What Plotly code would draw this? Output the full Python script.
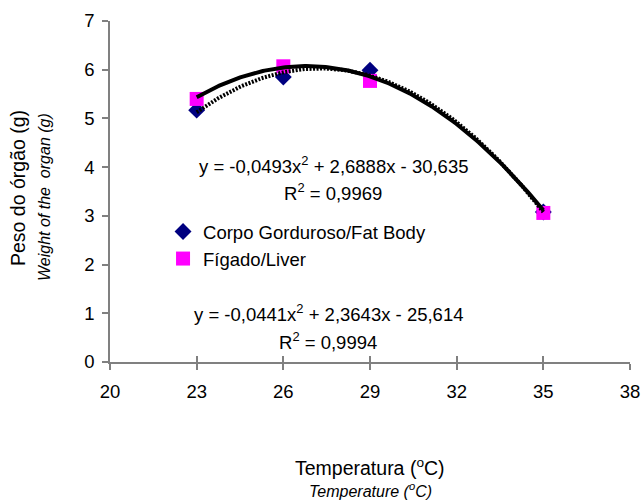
import numpy as np
import plotly.graph_objects as go

# Data
temperatures = [23, 26, 29, 35]
fat_body = [5.17, 5.85, 5.99, 3.08]
liver = [5.40, 6.07, 5.77, 3.06]

fat_coef = [-0.0493, 2.6888, -30.635]
liver_coef = [-0.0441, 2.3643, -25.614]

x_ticks = [20, 23, 26, 29, 32, 35, 38]
y_ticks = [0, 1, 2, 3, 4, 5, 6, 7]

FONT = "Liberation Sans, Arial, sans-serif"

xs = np.linspace(min(temperatures), max(temperatures), 200)
fat_fit = np.polyval(fat_coef, xs)
liver_fit = np.polyval(liver_coef, xs)

fig = go.Figure()
fig.add_trace(go.Scatter(
    x=temperatures, y=fat_body, mode="markers", name="Corpo Gorduroso/Fat Body",
    marker=dict(symbol="diamond", size=13, color="#000080"),
))
fig.add_trace(go.Scatter(
    x=temperatures, y=liver, mode="markers", name="Fígado/Liver",
    marker=dict(symbol="square", size=14, color="#FF00FF"),
))
fig.add_trace(go.Scatter(
    x=xs, y=fat_fit, mode="lines", showlegend=False, hoverinfo="skip",
    line=dict(color="black", width=4, dash="2px,1.5px"),
))
fig.add_trace(go.Scatter(
    x=xs, y=liver_fit, mode="lines", showlegend=False, hoverinfo="skip",
    line=dict(color="black", width=4),
))
# invisible trace to drive overlay axis (inside ticks for crossing look)
fig.add_trace(go.Scatter(x=[20, 38], y=[0, 0], mode="markers", xaxis="x2",
                         marker=dict(opacity=0), showlegend=False, hoverinfo="skip"))

axis_common = dict(showgrid=False, zeroline=False, showline=True, automargin=False,
                   linecolor="#808080", linewidth=1.5,
                   tickcolor="#808080", tickwidth=1.5, ticklen=6,
                   tickfont=dict(family=FONT, size=18.5, color="black"))

fig.update_layout(
    width=642, height=501,
    margin=dict(l=110, r=12, t=21, b=139),
    paper_bgcolor="white", plot_bgcolor="white",
    font=dict(family=FONT, size=18.5, color="black"),
    xaxis=dict(range=[20, 38], tickvals=x_ticks, ticks="outside",
               ticklabelstandoff=6, **axis_common),
    xaxis2=dict(range=[20, 38], tickvals=x_ticks, ticks="inside", overlaying="x",
                showticklabels=False, showgrid=False, zeroline=False, showline=False,
                automargin=False,
                tickcolor="#808080", tickwidth=1.5, ticklen=6, anchor="y"),
    yaxis=dict(range=[0, 7], tickvals=y_ticks, ticks="outside",
               ticklabelstandoff=4, **axis_common),
    showlegend=True,
    legend=dict(x=0.102, y=0.437, xanchor="left", yanchor="top",
                bgcolor="rgba(0,0,0,0)", itemwidth=30,
                font=dict(family=FONT, size=18.5, color="black"),
                tracegroupgap=0),
)

annotations = [
    dict(text="y = -0,0493x<sup>2</sup> + 2,6888x - 30,635", x=333, y=165),
    dict(text="R<sup>2</sup> = 0,9969", x=333, y=192),
    dict(text="y = -0,0441x<sup>2</sup> + 2,3643x - 25,614", x=328, y=313),
    dict(text="R<sup>2</sup> = 0,9994", x=328, y=341),
]
for a in annotations:
    fig.add_annotation(text=a["text"], xref="paper", yref="paper",
                       x=(a["x"] - 110) / 520, y=(362 - a["y"]) / 341,
                       showarrow=False, xanchor="center", yanchor="middle",
                       font=dict(family=FONT, size=18.5, color="black"))

# axis titles
fig.add_annotation(text="Temperatura (<sup>o</sup>C)", xref="paper", yref="paper",
                   x=(370 - 110) / 520, y=(362 - 467) / 341, showarrow=False,
                   xanchor="center", yanchor="middle",
                   font=dict(family=FONT, size=19.5, color="black"))
fig.add_annotation(text="<i>Temperature (<sup>o</sup>C)</i>", xref="paper", yref="paper",
                   x=(370 - 110) / 520, y=(362 - 490) / 341, showarrow=False,
                   xanchor="center", yanchor="middle",
                   font=dict(family=FONT, size=16, color="black"))
fig.add_annotation(text="Peso do órgão (g)", xref="paper", yref="paper",
                   x=(18 - 110) / 520, y=(362 - 188) / 341, showarrow=False,
                   textangle=-90, xanchor="center", yanchor="middle",
                   font=dict(family=FONT, size=19.5, color="black"))
fig.add_annotation(text="<i>Weight of the  organ (g)</i>", xref="paper", yref="paper",
                   x=(44 - 110) / 520, y=(362 - 197) / 341, showarrow=False,
                   textangle=-90, xanchor="center", yanchor="middle",
                   font=dict(family=FONT, size=16, color="black"))

fig.write_html("out.html", config={"displayModeBar": False},
               post_script="document.body.style.margin='0';document.body.style.overflow='hidden';")
